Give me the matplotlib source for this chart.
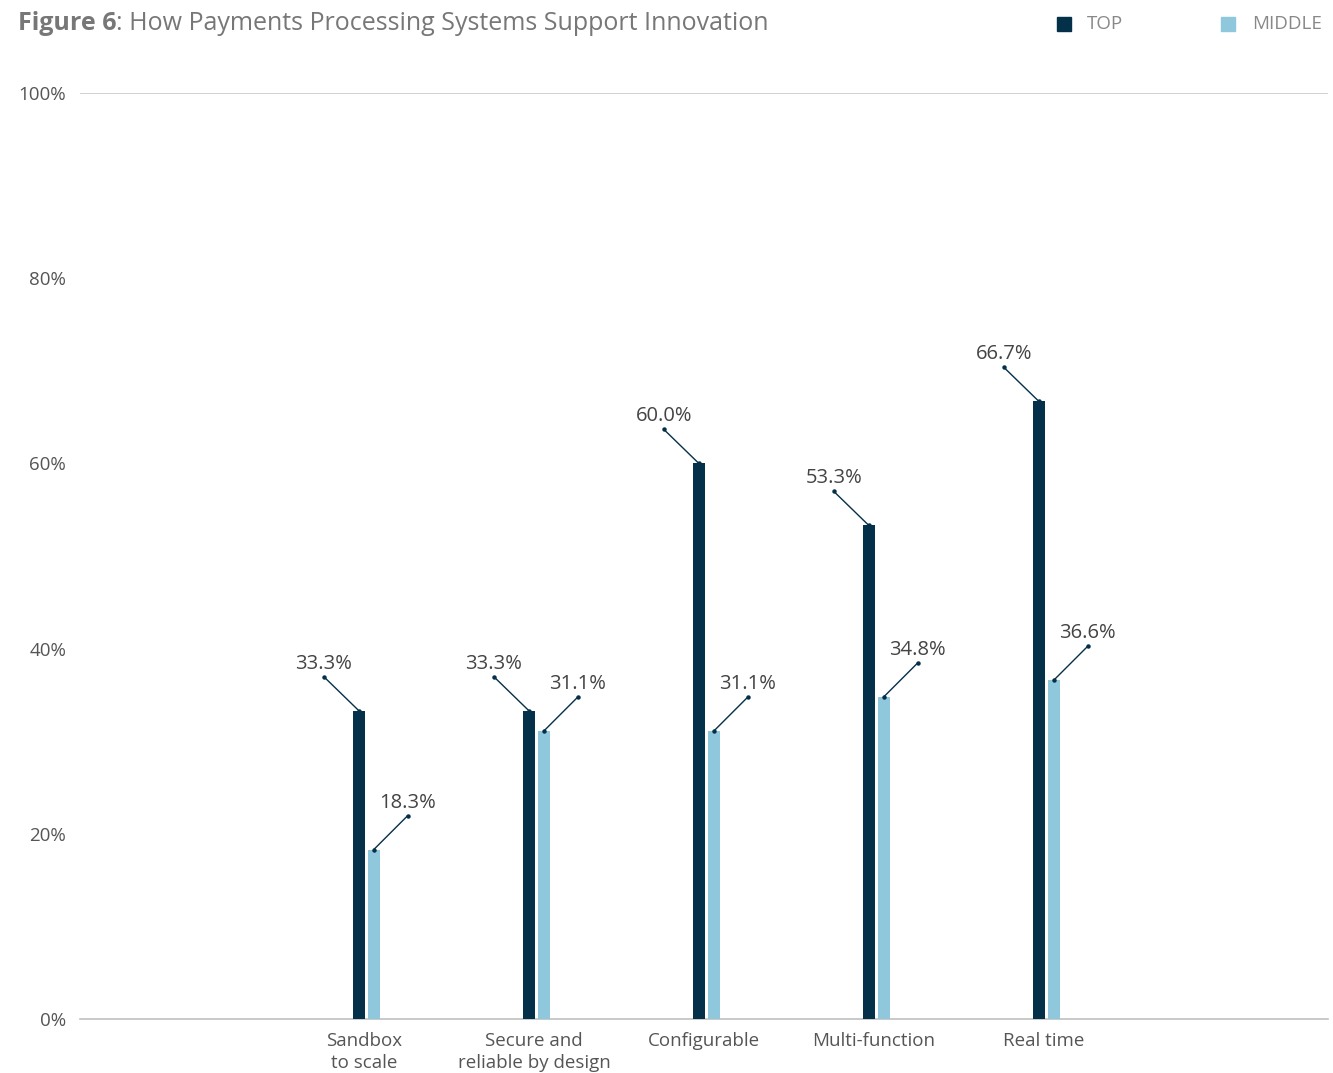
import numpy as np
import matplotlib.pyplot as plt
from matplotlib import transforms

plt.rcParams['font.family'] = ['Open Sans', 'DejaVu Sans']

categories = ['Sandbox\nto scale', 'Secure and\nreliable by design', 'Configurable',
              'Multi-function', 'Real time']
top = [33.3, 33.3, 60.0, 53.3, 66.7]
middle = [18.3, 31.1, 31.1, 34.8, 36.6]
yticks = [0, 20, 40, 60, 80, 100]

dark = '#04304a'
light = '#8fc8dc'
grey_txt = '#555555'

fig = plt.figure(figsize=(13.33, 10.73), dpi=100)
ax = fig.add_axes([0.060, 0.0503, 0.9362, 0.863])

x = np.arange(len(categories))
w = 0.07
x_top = x - 0.03
x_mid = x + 0.058

ax.bar(x_top, top, width=w, color=dark, zorder=3)
ax.bar(x_mid, middle, width=w, color=light, zorder=3)

# leader lines with dots, labels above
def leader(xs, vals, dx, dy, color):
    off = transforms.offset_copy(ax.transData, fig, x=dx, y=dy, units='dots')
    for xi, v in zip(xs, vals):
        ax.annotate('', xy=(xi, v), xytext=(dx, dy), textcoords='offset pixels',
                    arrowprops=dict(arrowstyle='-', color=color, lw=1,
                                    shrinkA=0, shrinkB=0), zorder=4)
        ax.plot([xi], [v], 'o', ms=2.2, color=color, zorder=5)
        ax.plot([xi], [v], 'o', ms=2.2, color=color, zorder=5, transform=off)
        ax.annotate(f'{v:.1f}%', xy=(xi, v), xytext=(dx, dy + 3),
                    textcoords='offset pixels', ha='center', va='bottom',
                    fontsize=14.5, color='#444444')

leader(x_top, top, -35, 34, dark)
leader(x_mid, middle, 34, 34, dark)

ax.set_xlim(-1.67, 5.67)
ax.set_ylim(0, 100)
ax.set_yticks(yticks)
ax.set_yticklabels([f'{t}%' for t in yticks], fontsize=13.5, color=grey_txt)
ax.set_xticks(x)
ax.set_xticklabels(categories, fontsize=13.5, color=grey_txt, linespacing=1.3)
ax.tick_params(axis='both', length=0)
ax.tick_params(axis='y', pad=10)
ax.tick_params(axis='x', pad=9)

for s in ['top', 'right', 'left']:
    ax.spines[s].set_visible(False)
ax.spines['bottom'].set_color('#c0c0c0')
ax.spines['bottom'].set_linewidth(1.2)
ax.axhline(100, color='#c8c8c8', lw=1.2, zorder=1)

# title: bold figure number followed by the caption
t1 = fig.text(0.0135, 0.9785, 'Figure 6', fontsize=18, fontweight='bold', color='#777777',
              ha='left', va='center')
ax.annotate(': How Payments Processing Systems Support Innovation', xy=(1, 0.5),
            xycoords=t1, ha='left', va='center', fontsize=18, color='#777777',
            annotation_clip=False)

# legend
fig.patches.append(plt.Rectangle((1057 / 1333, 1 - 31 / 1073), 14 / 1333, 14 / 1073,
                                 transform=fig.transFigure, color=dark))
fig.text(1087 / 1333, 1 - 24 / 1073, 'TOP', fontsize=13.5, color='#888888', va='center')
fig.patches.append(plt.Rectangle((1221 / 1333, 1 - 31 / 1073), 14 / 1333, 14 / 1073,
                                 transform=fig.transFigure, color=light))
fig.text(1252 / 1333, 1 - 24 / 1073, 'MIDDLE', fontsize=13.5, color='#888888', va='center')

fig.savefig('out.png', dpi=100)
